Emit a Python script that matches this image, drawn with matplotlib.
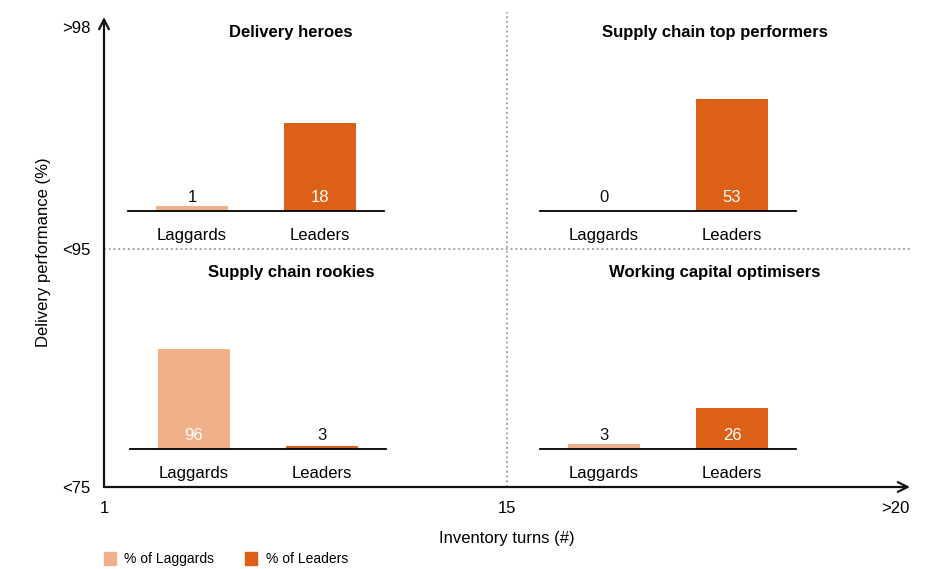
import matplotlib.pyplot as plt
import matplotlib.patches as mpatches

plt.rcParams["font.family"] = ["Liberation Sans", "DejaVu Sans"]

# ── Data ─────────────────────────────────────────────────────────────────────
groups = ["Laggards", "Leaders"]
quadrant_titles = [
    "Delivery heroes",
    "Supply chain top performers",
    "Supply chain rookies",
    "Working capital optimisers",
]
quadrant_values = [
    [1, 18],
    [0, 53],
    [96, 3],
    [3, 26],
]
x_ticklabels = ["1", "15", ">20"]
y_ticklabels = ["<75", "<95", ">98"]
legend_labels = ["% of Laggards", "% of Leaders"]

LAGGARD_COLOR = "#F0B08A"
LEADER_COLOR = "#DC6016"
COLORS = [LAGGARD_COLOR, LEADER_COLOR]

W, H = 934, 569
fig = plt.figure(figsize=(W / 100, H / 100), dpi=100)


def fx(px):
    return px / W


def fy(py):
    return 1 - py / H


# ── Main quadrant axes ───────────────────────────────────────────────────────
ax = fig.add_axes([fx(104), fy(487), fx(910) - fx(104), fy(17) - fy(487)])
ax.set_xlim(0, 1)
ax.set_ylim(0, 1)
for s in ax.spines.values():
    s.set_visible(False)
ax.set_xticks([0, 0.5, 1])
ax.set_xticklabels(x_ticklabels, fontsize=12)
ax.set_yticks([0, 0.506, 0.979])
ax.set_yticklabels(y_ticklabels, fontsize=12)
ax.tick_params(length=0, pad=10)
ax.get_xticklabels()[-1].set_ha("right")
ax.set_xlabel("Inventory turns (#)", fontsize=12, labelpad=11)
ax.set_ylabel("Delivery performance (%)", fontsize=12, labelpad=8)

arrow = dict(arrowstyle="->,head_length=0.7,head_width=0.35", lw=1.6, color="#111111",
             shrinkA=0, shrinkB=0)
ax.annotate("", xy=(1.0, 0), xytext=(0, 0), xycoords="axes fraction", arrowprops=arrow,
            annotation_clip=False)
ax.annotate("", xy=(0, 1.0), xytext=(0, 0), xycoords="axes fraction", arrowprops=arrow,
            annotation_clip=False)
ax.plot([0.5, 0.5], [0, 1.01], ls=":", color="#999999", lw=1.3, clip_on=False)
ax.plot([0, 1], [0.506, 0.506], ls=":", color="#999999", lw=1.3)

# ── Quadrant bar charts ──────────────────────────────────────────────────────
insets = [  # left px, right px, baseline px, ylim top
    (128, 384, 211, 24.5),
    (540, 796, 211, 56.8),
    (130, 386, 449, 115.2),
    (540, 796, 449, 76.1),
]
title_pos = [(291, 32), (715, 32), (291, 273), (715, 273)]

for (x0, x1, base, ytop), title, vals, (tx, ty) in zip(insets, quadrant_titles,
                                                         quadrant_values, title_pos):
    iax = fig.add_axes([fx(x0), fy(base), fx(x1) - fx(x0), 120 / H])
    iax.bar(range(len(groups)), vals, width=0.56, color=COLORS)
    iax.set_xlim(-0.5, 1.5)
    iax.set_ylim(0, ytop)
    iax.patch.set_visible(False)
    for k in ["top", "right", "left"]:
        iax.spines[k].set_visible(False)
    iax.spines["bottom"].set_linewidth(1.3)
    iax.set_yticks([])
    iax.set_xticks(range(len(groups)))
    iax.set_xticklabels(groups, fontsize=12)
    iax.tick_params(axis="x", length=0, pad=12)
    for i, v in enumerate(vals):
        tall = v / ytop > 0.2
        iax.annotate(str(v), xy=(i, 0), xytext=(0, 14), textcoords="offset pixels",
                     ha="center", va="center", fontsize=12,
                     color="white" if tall else "#111111")
    fig.text(fx(tx), fy(ty), title, ha="center", va="center", fontsize=12,
             fontweight="bold")

# ── Legend ───────────────────────────────────────────────────────────────────
handles = [mpatches.Patch(color=c, label=l) for c, l in zip(COLORS, legend_labels)]
fig.legend(handles=handles, loc="center left", bbox_to_anchor=(fx(91), fy(559)),
           ncol=2, frameon=False, fontsize=10, handlelength=0.9, handleheight=1.1,
           handletextpad=0.6, columnspacing=2.2)

fig.savefig("out.png", dpi=100)
